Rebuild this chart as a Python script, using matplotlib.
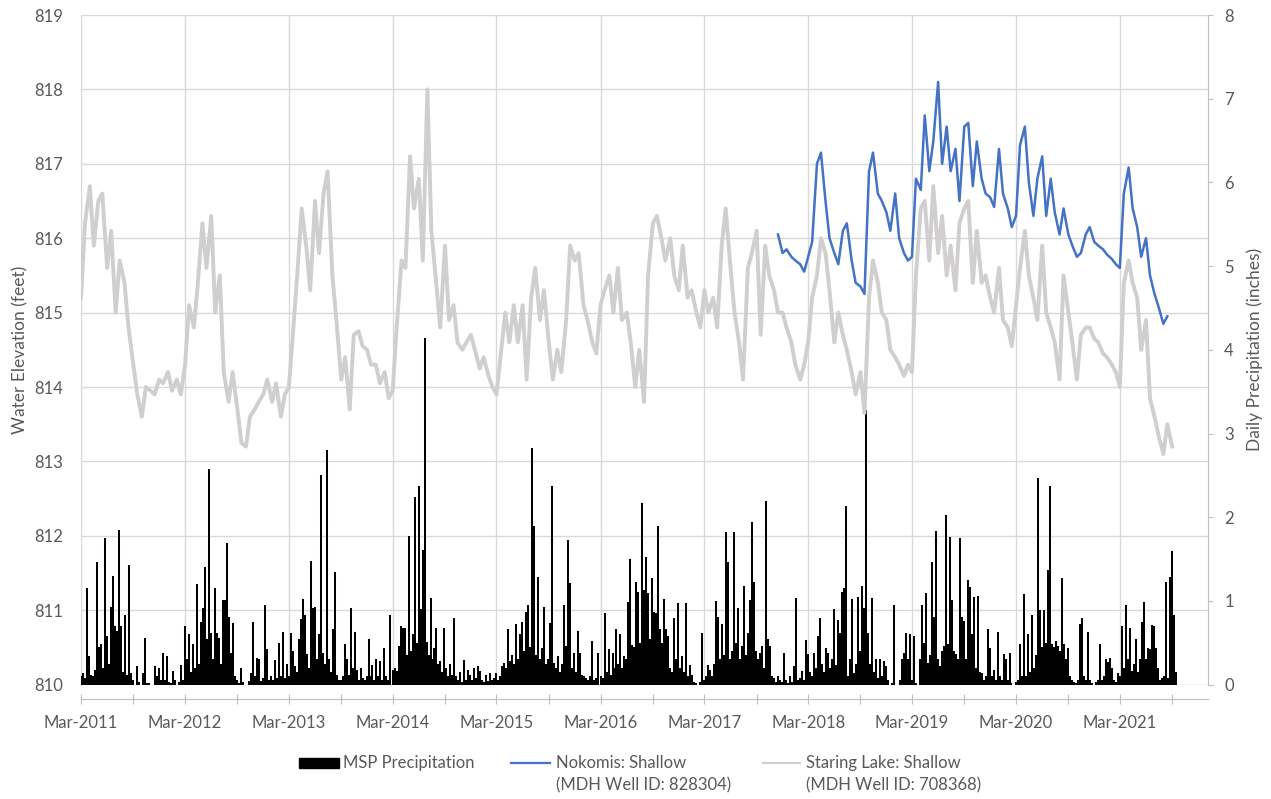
import numpy as np
import pandas as pd
import matplotlib
matplotlib.use("Agg")
import matplotlib.pyplot as plt
import matplotlib.dates as mdates
from matplotlib.patches import Rectangle
from matplotlib.lines import Line2D

plt.rcParams['font.family'] = ['Lato', 'DejaVu Sans']

TEXT = '#595959'
GRID = '#D9D9D9'
AXIS = '#BFBFBF'
BLUE = '#4472C4'
GREY = '#D0CECE'

# Staring Lake shallow well, water elevation (ft), values on the 1st and 15th of each month from Mar 1
staring_2011 = [815.2, 816.2, 816.7, 815.9, 816.5, 816.6, 815.6, 816.1, 815.0, 815.7, 815.4, 814.8,
                814.3, 813.9, 813.6, 814.0, 813.95, 813.9, 814.1, 814.05, 814.2, 813.95, 814.1, 813.9]
staring_2012 = [814.3, 815.1, 814.8, 815.4, 816.2, 815.6, 816.3, 815.0, 815.5, 814.2, 813.8, 814.2,
                813.7, 813.25, 813.2, 813.6, 813.7, 813.8, 813.9, 814.1, 813.8, 814.05, 813.6, 813.9]
staring_2013 = [814.0, 814.7, 815.6, 816.4, 815.9, 815.3, 816.5, 815.8, 816.6, 816.9, 815.5, 814.9,
                814.1, 814.4, 813.7, 814.7, 814.75, 814.55, 814.5, 814.3, 814.3, 814.05, 814.2, 813.85]
staring_2014 = [813.95, 814.8, 815.7, 815.6, 817.1, 816.4, 816.8, 815.7, 818.0, 816.1, 815.4, 814.8,
                815.9, 814.9, 815.1, 814.6, 814.5, 814.6, 814.7, 814.5, 814.25, 814.4, 814.15, 814.0]
staring_2015 = [813.9, 814.4, 815.0, 814.6, 815.1, 814.6, 815.1, 814.1, 815.2, 815.6, 814.9, 815.3,
                814.6, 814.1, 814.5, 814.2, 814.9, 815.9, 815.7, 815.8, 815.1, 814.9, 814.6, 814.45]
staring_2016 = [815.1, 815.3, 815.5, 815.0, 815.6, 814.9, 815.0, 814.6, 814.0, 814.5, 813.8, 815.5,
                816.2, 816.3, 816.0, 815.7, 816.0, 815.5, 815.3, 815.9, 815.2, 815.3, 815.0, 814.8]
staring_2017 = [815.3, 815.0, 815.2, 814.8, 815.9, 816.4, 815.6, 815.0, 814.6, 814.1, 815.6, 815.8,
                816.1, 814.7, 815.9, 815.5, 815.3, 815.0, 815.0, 814.8, 814.6, 814.3, 814.1, 814.3]
staring_2018 = [814.6, 815.2, 815.5, 816.0, 815.8, 815.3, 814.6, 815.0, 814.7, 814.5, 814.2, 813.9,
                814.2, 813.65, 815.2, 815.7, 815.4, 815.0, 814.9, 814.5, 814.4, 814.3, 814.15, 814.3]
staring_2019 = [814.2, 815.5, 816.4, 816.5, 815.7, 816.7, 815.8, 816.3, 815.5, 815.9, 815.3, 816.2,
                816.4, 816.5, 815.4, 816.1, 815.4, 815.5, 815.2, 815.0, 815.6, 814.9, 814.8, 814.55]
staring_2020 = [815.1, 815.6, 816.1, 815.5, 815.2, 814.9, 815.9, 815.0, 814.8, 814.6, 814.1, 815.5,
                815.0, 814.6, 814.1, 814.7, 814.8, 814.8, 814.65, 814.6, 814.45, 814.4, 814.3, 814.2]
staring_2021 = [814.0, 815.4, 815.7, 815.4, 815.2, 814.5, 814.9, 813.85, 813.6, 813.35, 813.1, 813.5,
                813.2]

# Nokomis shallow well, water elevation (ft), 1st and 15th of each month from Nov 15 2017
nokomis_2017 = [816.05, 815.8, 815.85, 815.75, 815.7, 815.65, 815.55]
nokomis_2018 = [815.75, 815.95, 817.0, 817.15, 816.5, 816.0, 815.8, 815.65, 816.1, 816.2, 815.7, 815.4,
                815.35, 815.25, 816.9, 817.15, 816.6, 816.5, 816.35, 816.1, 816.6, 816.0, 815.8, 815.7]
nokomis_2019 = [815.75, 816.8, 816.65, 817.65, 816.9, 817.3, 818.1, 817.0, 817.5, 816.9, 817.2, 816.5,
                817.5, 817.55, 816.7, 817.3, 816.8, 816.6, 816.55, 816.42, 817.2, 816.6, 816.4, 816.15]
nokomis_2020 = [816.3, 817.25, 817.5, 816.75, 816.3, 816.8, 817.1, 816.3, 816.8, 816.35, 816.05, 816.4,
                816.05, 815.9, 815.75, 815.8, 816.05, 816.15, 815.95, 815.9, 815.85, 815.78, 815.72, 815.65]
nokomis_2021 = [815.6, 816.6, 816.95, 816.4, 816.15, 815.75, 816.0, 815.5, 815.25, 815.08, 814.85, 814.95]

# MSP daily precipitation (in), largest day in each week counted from Mar 1
precip_2011 = [0.10, 0.14, 0.08, 1.15, 0.34, 0.12, 0.10, 0.18, 1.47, 0.45, 0.48, 0.20, 1.75,
               0.58, 0.25, 0.93, 1.30, 0.70, 0.64, 1.85, 0.70, 0.15, 0.83, 0.12, 1.43, 0.14,
               0.05, 0.00, 0.22, 0.03, 0.00, 0.14, 0.56, 0.02, 0.02, 0.00, 0.00, 0.22, 0.10,
               0.20, 0.05, 0.38, 0.05, 0.34, 0.03, 0.02, 0.16, 0.05, 0.00, 0.03, 0.24, 0.05]
precip_2012 = [0.70, 0.30, 0.60, 0.15, 0.48, 0.20, 1.20, 0.25, 0.75, 0.91, 1.41, 0.54, 2.58,
               0.62, 0.30, 1.16, 0.62, 0.56, 0.25, 1.01, 1.01, 1.69, 0.81, 0.38, 0.74, 0.10,
               0.06, 0.02, 0.20, 0.03, 0.00, 0.00, 0.04, 0.14, 0.75, 0.10, 0.32, 0.30, 0.04,
               0.08, 0.95, 0.43, 0.05, 0.10, 0.05, 0.29, 0.08, 0.50, 0.10, 0.63, 0.08, 0.25]
precip_2013 = [0.10, 0.62, 0.40, 0.22, 0.15, 0.54, 0.78, 1.02, 0.83, 0.36, 0.20, 1.48, 0.91,
               0.93, 0.30, 0.60, 2.50, 0.38, 0.25, 2.80, 0.30, 0.15, 0.66, 1.34, 0.12, 0.05,
               0.06, 0.10, 0.48, 0.30, 0.12, 0.91, 0.20, 0.63, 0.18, 0.05, 0.20, 0.08, 0.05,
               0.10, 0.54, 0.10, 0.24, 0.06, 0.30, 0.10, 0.28, 0.05, 0.44, 0.10, 0.05, 0.83]
precip_2014 = [0.18, 0.20, 0.16, 0.46, 0.70, 0.68, 0.68, 0.35, 1.77, 0.40, 0.61, 2.24, 0.50,
               2.37, 0.90, 1.61, 4.14, 0.51, 0.35, 1.04, 0.30, 0.44, 0.68, 0.25, 0.28, 0.15,
               0.68, 0.20, 0.10, 0.25, 0.12, 0.79, 0.10, 0.05, 0.15, 0.03, 0.29, 0.05, 0.18,
               0.12, 0.05, 0.20, 0.08, 0.22, 0.16, 0.05, 0.03, 0.12, 0.04, 0.14, 0.05, 0.08]
precip_2015 = [0.14, 0.05, 0.10, 0.22, 0.26, 0.20, 0.66, 0.28, 0.35, 0.25, 0.72, 0.30, 0.60,
               0.75, 0.40, 0.87, 0.95, 0.45, 2.83, 1.90, 0.35, 1.29, 0.30, 0.44, 0.93, 0.25,
               0.30, 0.73, 2.37, 0.26, 0.20, 0.34, 0.15, 0.25, 0.95, 0.46, 1.73, 1.21, 0.20,
               0.38, 0.15, 0.64, 0.38, 0.12, 0.10, 0.08, 0.05, 0.10, 0.52, 0.06, 0.08, 0.38]
precip_2016 = [0.10, 0.08, 0.86, 0.15, 0.42, 0.12, 0.38, 0.20, 0.66, 0.25, 0.60, 0.20, 0.34,
               0.31, 0.99, 1.50, 0.47, 0.45, 1.22, 1.11, 0.50, 2.17, 1.13, 1.53, 1.09, 0.55,
               1.27, 0.87, 0.85, 1.89, 0.66, 0.50, 1.02, 0.66, 0.58, 0.20, 0.15, 0.79, 0.30,
               0.98, 0.20, 0.34, 0.15, 0.98, 0.10, 0.24, 0.12, 0.03, 0.02, 0.00, 0.03, 0.62]
precip_2017 = [0.05, 0.10, 0.24, 0.18, 0.10, 0.25, 1.00, 0.81, 0.30, 0.72, 0.35, 1.82, 1.47,
               0.30, 0.40, 1.82, 0.50, 0.91, 0.30, 0.46, 1.18, 0.35, 0.62, 1.01, 1.94, 1.23,
               0.40, 0.30, 0.38, 0.46, 0.20, 2.19, 0.55, 0.46, 0.10, 0.08, 0.03, 0.10, 0.05,
               0.03, 0.38, 0.05, 0.02, 0.10, 0.03, 0.22, 1.04, 0.05, 0.08, 0.16, 0.05, 0.53]
precip_2018 = [0.36, 0.15, 0.10, 0.38, 0.20, 0.58, 0.79, 0.25, 0.15, 0.44, 0.38, 0.20, 0.30,
               0.90, 0.24, 0.77, 0.62, 1.11, 1.15, 2.13, 0.10, 0.30, 1.02, 0.14, 0.25, 1.05,
               0.40, 1.18, 0.91, 3.28, 0.62, 0.25, 1.04, 0.15, 0.30, 0.08, 0.31, 0.10, 0.28,
               0.22, 0.05, 0.00, 0.02, 0.95, 0.00, 0.00, 0.05, 0.30, 0.38, 0.62, 0.30, 0.60]
precip_2019 = [0.05, 0.58, 0.02, 0.00, 0.30, 0.95, 0.50, 1.10, 0.26, 0.35, 1.46, 0.81, 1.84,
               0.30, 0.22, 0.40, 0.46, 2.03, 0.48, 1.76, 1.01, 0.40, 0.36, 0.30, 1.75, 0.81,
               0.76, 0.30, 1.25, 1.17, 0.60, 1.05, 0.20, 1.06, 0.15, 0.14, 0.05, 0.10, 0.66,
               0.44, 0.10, 0.18, 0.05, 0.63, 0.10, 0.05, 0.36, 0.31, 0.05, 0.38, 0.02, 0.00]
precip_2020 = [0.03, 0.05, 0.48, 0.10, 1.08, 0.10, 0.61, 0.15, 0.83, 0.20, 0.35, 2.47, 0.89,
               0.45, 0.89, 0.50, 1.37, 2.37, 0.48, 0.45, 0.52, 0.46, 0.40, 1.27, 0.49, 0.30,
               0.44, 0.10, 0.06, 0.03, 0.02, 0.05, 0.72, 0.80, 0.10, 0.05, 0.63, 0.05, 0.02,
               0.00, 0.03, 0.05, 0.48, 0.05, 0.10, 0.30, 0.27, 0.32, 0.20, 0.05, 0.03, 0.14]
precip_2021 = [0.10, 0.70, 0.20, 0.95, 0.30, 0.68, 0.16, 0.25, 0.54, 0.15, 0.30, 0.75, 0.99,
               0.30, 0.44, 0.42, 0.71, 0.70, 0.44, 0.20, 0.06, 0.08, 0.10, 1.23, 0.08, 1.28,
               1.60, 0.83, 0.15]

precip_years = [2011, 2012, 2013, 2014, 2015, 2016, 2017, 2018, 2019, 2020, 2021]
precip_weeks = [precip_2011, precip_2012, precip_2013, precip_2014, precip_2015, precip_2016,
                precip_2017, precip_2018, precip_2019, precip_2020, precip_2021]

staring = np.concatenate([staring_2011, staring_2012, staring_2013, staring_2014, staring_2015,
                          staring_2016, staring_2017, staring_2018, staring_2019, staring_2020,
                          staring_2021])
staring_dates = pd.date_range('2011-03-01', periods=len(staring), freq='SMS')

nokomis = np.concatenate([nokomis_2017, nokomis_2018, nokomis_2019, nokomis_2020, nokomis_2021])
nokomis_dates = pd.date_range('2017-11-15', periods=len(nokomis), freq='SMS')

precip_dates = []
precip = []
for year, weeks in zip(precip_years, precip_weeks):
    start = pd.Timestamp(f'{year}-03-01')
    for w, v in enumerate(weeks):
        precip_dates.append(start + pd.Timedelta(days=7 * w))
        precip.append(v)

W, H = 1271, 799
fig = plt.figure(figsize=(W / 100, H / 100), dpi=100)
ax = fig.add_axes([81 / W, 1 - 684.6 / H, (1208 - 81) / W, (684.6 - 15) / H])
ax2 = ax.twinx()
ax3 = ax.twinx()

# precipitation columns on the right axis
ax2.vlines(precip_dates, 0, precip, colors='black', lw=1.45, capstyle='butt')
ax2.set_ylim(0, 8)
ax2.set_yticks(range(0, 9))
ax2.tick_params(axis='y', direction='out', length=3.6, width=0.8, color=AXIS,
                labelcolor=TEXT, labelsize=12, pad=8)
for s in ['top', 'left', 'bottom']:
    ax2.spines[s].set_visible(False)
ax2.spines['right'].set_color(AXIS)
ax2.set_ylabel('Daily Precipitation (inches)', color=TEXT, fontsize=12.5, labelpad=9)

# well levels drawn above the columns
ax3.plot(staring_dates, staring, color=GREY, lw=2.8, solid_joinstyle='round')
ax3.plot(nokomis_dates, nokomis, color=BLUE, lw=1.8, solid_joinstyle='round')
ax3.set_ylim(810, 819)
ax3.set_axis_off()

ax.set_ylim(810, 819)
ax.set_yticks(range(810, 820))
ax.set_xlim(pd.Timestamp('2011-03-01'), pd.Timestamp('2022-01-05'))
ax.set_axisbelow(True)
ax.grid(True, which='major', color=GRID, lw=1.0)
ax.xaxis.set_major_locator(mdates.MonthLocator(bymonth=3))
ax.xaxis.set_minor_locator(mdates.MonthLocator(bymonth=9))
ax.xaxis.set_major_formatter(mdates.DateFormatter('%b-%Y'))
ax.tick_params(axis='y', length=0, labelcolor=TEXT, labelsize=12, pad=13)
ax.tick_params(axis='x', which='both', direction='inout', length=7.2, width=0.8, color=AXIS,
               labelcolor=TEXT, labelsize=12, pad=8)
ax.spines['top'].set_visible(False)
ax.spines['right'].set_visible(False)
ax.spines['left'].set_color(GRID)
ax.spines['bottom'].set_color(AXIS)
ax.spines['bottom'].set_position(('outward', 10.6))
ax.set_ylabel('Water Elevation (feet)', color=TEXT, fontsize=12.5, labelpad=4)

# legend along the bottom
def fx(px):
    return px / W

def fy(py):
    return 1 - py / H

fig.add_artist(Rectangle((fx(299), fy(768)), fx(40), 10 / H, color='black'))
fig.text(fx(343), fy(763), 'MSP Precipitation', color=TEXT, fontsize=12, va='center')
fig.add_artist(Line2D([fx(511), fx(550)], [fy(763), fy(763)], color=BLUE, lw=1.6))
fig.text(fx(556), fy(763), 'Nokomis: Shallow', color=TEXT, fontsize=12, va='center')
fig.text(fx(556), fy(785), '(MDH Well ID: 828304)', color=TEXT, fontsize=12, va='center')
fig.add_artist(Line2D([fx(763), fx(800)], [fy(763), fy(763)], color=GREY, lw=1.6))
fig.text(fx(806), fy(763), 'Staring Lake: Shallow', color=TEXT, fontsize=12, va='center')
fig.text(fx(806), fy(785), '(MDH Well ID: 708368)', color=TEXT, fontsize=12, va='center')

fig.savefig('out.png', dpi=100)
